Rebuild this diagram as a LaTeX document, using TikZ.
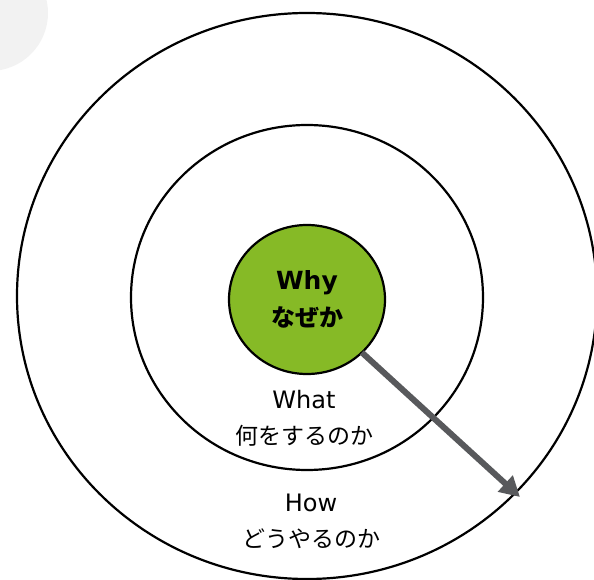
\documentclass[tikz,border=0pt]{standalone}
\usepackage{fontspec}
\setmainfont{Noto Sans CJK JP}
\newfontfamily\latfont{DejaVu Sans}
\usepackage{xcolor}
\usepackage{tikz}
\usetikzlibrary{shapes.geometric, arrows.meta, positioning}

\definecolor{whygreen}{RGB}{134,186,38}
\definecolor{arrowgray}{RGB}{88,89,92}
\definecolor{blobgray}{RGB}{242,242,242}

\begin{document}
\begin{tikzpicture}[
  x=1pt, y=-1pt,
  ring/.style={ellipse, draw, line width=2.2pt, inner sep=0pt, outer sep=0pt},
  core/.style={ring, fill=whygreen, align=center, font=\fontsize{24}{37}\selectfont\bfseries},
  txt/.style={align=center, inner sep=0pt, font=\fontsize{23}{36}\selectfont},
  pointer/.style={-{Triangle[length=20pt, width=21pt]}, line width=6pt, draw=arrowgray}
]
  \useasboundingbox (0,0) rectangle (594,580);
  \fill[blobgray] (-10,13) circle (58);

  \node[ring, minimum width=580pt, minimum height=566pt] (how) at (307,296) {};
  \node[ring, minimum width=352pt, minimum height=345pt] (what) at (307,297.5) {};
  \node[core, minimum width=156pt, minimum height=149pt] (why) at (307,299.5) {{\latfont\fontsize{25}{37}\selectfont Why}\\なぜか};

  \node[txt] (whatlbl) at (304,418) {{\latfont\fontsize{24}{36}\selectfont What}\\何をするのか};
  \node[txt] (howlbl) at (311,521) {{\latfont\fontsize{24}{36}\selectfont How}\\どうやるのか};

  \coordinate (tip) at (520,497);
  \draw[pointer] (why.-44) -- (tip);
\end{tikzpicture}
\end{document}
